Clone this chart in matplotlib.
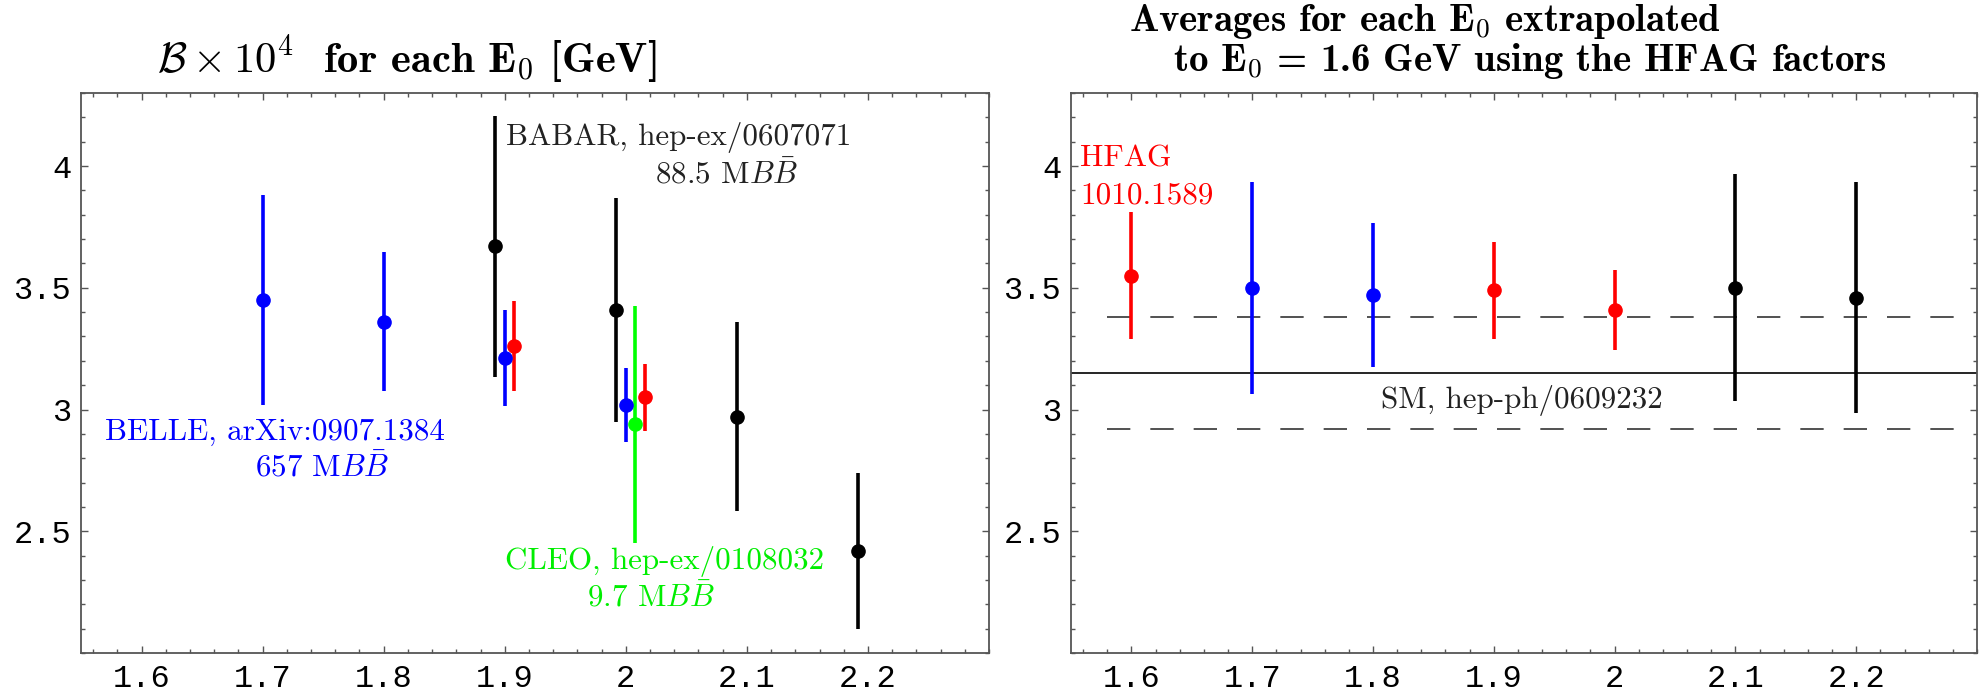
import matplotlib
matplotlib.use("Agg")
import matplotlib.pyplot as plt
from matplotlib.ticker import MultipleLocator, FuncFormatter

plt.rcParams["mathtext.fontset"] = "cm"

# ---- left panel: B x 10^4 for each E0 cut ----
belle_x = [1.7, 1.8, 1.9, 2.0]
belle_y = [3.45, 3.36, 3.21, 3.02]
belle_err = [0.43, 0.285, 0.197, 0.152]

babar_x = [1.892, 1.992, 2.092, 2.192]
babar_y = [3.67, 3.41, 2.97, 2.42]
babar_err = [0.535, 0.46, 0.388, 0.321]

hfag_x = [1.908, 2.016]
hfag_y = [3.26, 3.05]
hfag_err = [0.185, 0.139]

cleo_x = [2.008]
cleo_y = [2.94]
cleo_err = [0.487]

# ---- right panel: extrapolated to E0 = 1.6 GeV ----
avg_red_x = [1.6, 1.9, 2.0]
avg_red_y = [3.55, 3.49, 3.41]
avg_red_err = [0.26, 0.2, 0.164]

avg_blue_x = [1.7, 1.8]
avg_blue_y = [3.50, 3.47]
avg_blue_err = [0.435, 0.295]

avg_black_x = [2.1, 2.2]
avg_black_y = [3.50, 3.46]
avg_black_err = [0.466, 0.473]

sm_central = 3.15
sm_err = 0.23

x_ticks = [1.6, 1.7, 1.8, 1.9, 2.0, 2.1, 2.2]
y_ticks = [2.5, 3.0, 3.5, 4.0]

W, H = 1980, 692
TICK_FONT = "Liberation Mono"
TEXT_FONT = "cmr10"
BOLD_FONT = "cmb10"


def style_axes(ax):
    ax.set_xlim(1.55, 2.3)
    ax.set_ylim(2.0, 4.3)
    ax.set_xticks(x_ticks)
    ax.set_yticks(y_ticks)
    ax.xaxis.set_minor_locator(MultipleLocator(0.02))
    ax.yaxis.set_minor_locator(MultipleLocator(0.1))
    fmt = FuncFormatter(lambda v, p: f"{v:g}")
    ax.xaxis.set_major_formatter(fmt)
    ax.yaxis.set_major_formatter(fmt)
    ax.tick_params(which="both", direction="in", top=True, right=True,
                   color="#555555", width=1.0)
    ax.tick_params(which="major", length=5)
    ax.tick_params(which="minor", length=3)
    ax.tick_params(axis="x", pad=8)
    ax.tick_params(axis="y", pad=7)
    for lab in ax.get_xticklabels() + ax.get_yticklabels():
        lab.set_fontfamily(TICK_FONT)
        lab.set_fontsize(23)
    for sp in ax.spines.values():
        sp.set_color("#555555")
        sp.set_linewidth(1.3)


def bars(ax, x, y, err, color):
    ax.errorbar(x, y, yerr=err, fmt="o", color=color, mec=color, ms=9.5,
                elinewidth=2.6, capsize=0, zorder=3)


def fit_width(t, target_px, renderer):
    # scale the font so the text spans the same width as in the original
    w = t.get_window_extent(renderer).width
    t.set_fontsize(t.get_fontsize() * target_px / w)
    return t.get_fontsize()


fig = plt.figure(figsize=(W / 100, H / 100), dpi=100)
ax1 = fig.add_axes([81 / W, 1 - 653 / H, 908 / W, 560 / H])
ax2 = fig.add_axes([1071 / W, 1 - 653 / H, 906 / W, 560 / H])
renderer = fig.canvas.get_renderer()

# left panel
bars(ax1, belle_x, belle_y, belle_err, "#0000ff")
bars(ax1, babar_x, babar_y, babar_err, "black")
bars(ax1, hfag_x, hfag_y, hfag_err, "#ff0000")
bars(ax1, cleo_x, cleo_y, cleo_err, "#00ff00")

txt = dict(fontfamily=TEXT_FONT, fontsize=22, ha="center", va="baseline")
belle1 = ax1.text(1.710, 2.875, "BELLE, arXiv:0907.1384", color="#0000ff", **txt)
txt["fontsize"] = fit_width(belle1, 340, renderer)
ax1.text(1.749, 2.723, r"657 M$B\bar{B}$", color="#0000ff", **txt)
ax1.text(2.044, 4.085, "BABAR, hep-ex/0607071", color="#222222", **txt)
ax1.text(2.083, 3.93, r"88.5 M$B\bar{B}$", color="#222222", **txt)
ax1.text(2.032, 2.345, "CLEO, hep-ex/0108032", color="#00ee00", **txt)
ax1.text(2.021, 2.189, r"9.7 M$B\bar{B}$", color="#00ee00", **txt)
style_axes(ax1)

# right panel
ax2.axhline(sm_central, color="black", lw=1.2, zorder=1)
ax2.hlines([sm_central + sm_err, sm_central - sm_err], 1.58, 2.285,
           colors="#333333", lw=1.2, linestyles=[(0, (14, 12))], zorder=1)
bars(ax2, avg_red_x, avg_red_y, avg_red_err, "#ff0000")
bars(ax2, avg_blue_x, avg_blue_y, avg_blue_err, "#0000ff")
bars(ax2, avg_black_x, avg_black_y, avg_black_err, "black")

txt_l = dict(txt, ha="left")
ax2.text(1.5575, 4.0, "HFAG", color="#ff0000", **txt_l)
ax2.text(1.5575, 3.848, "1010.1589", color="#ff0000", **txt_l)
ax2.text(1.807, 3.005, "SM, hep-ph/0609232", color="#222222", **txt_l)
style_axes(ax2)

# titles
ttl = dict(fontfamily=BOLD_FONT, fontsize=24, ha="center", va="baseline")
t1 = fig.text(407 / W, 1 - 73 / H,
              r"$\mathcal{B}\times\mathbf{10}^{\mathbf{4}}$  for each "
              r"$\mathbf{E}_{\mathbf{0}}$ [GeV]", **ttl)
t2 = fig.text(1425 / W, 1 - 31 / H,
              r"Averages for each $\mathbf{E}_{\mathbf{0}}$ extrapolated", **ttl)
t3 = fig.text(1530 / W, 1 - 71 / H,
              r"to $\mathbf{E}_{\mathbf{0}}$ = 1.6 GeV using the HFAG factors",
              **ttl)
fit_width(t1, 500, renderer)
s2 = fit_width(t2, 644, renderer)
s3 = fit_width(t3, 810, renderer)
# the two lines share one size, a little smaller so they do not touch
t2.set_fontsize(0.9 * (s2 + s3) / 2)
t3.set_fontsize(0.9 * (s2 + s3) / 2)

fig.savefig("out.png", dpi=100)
